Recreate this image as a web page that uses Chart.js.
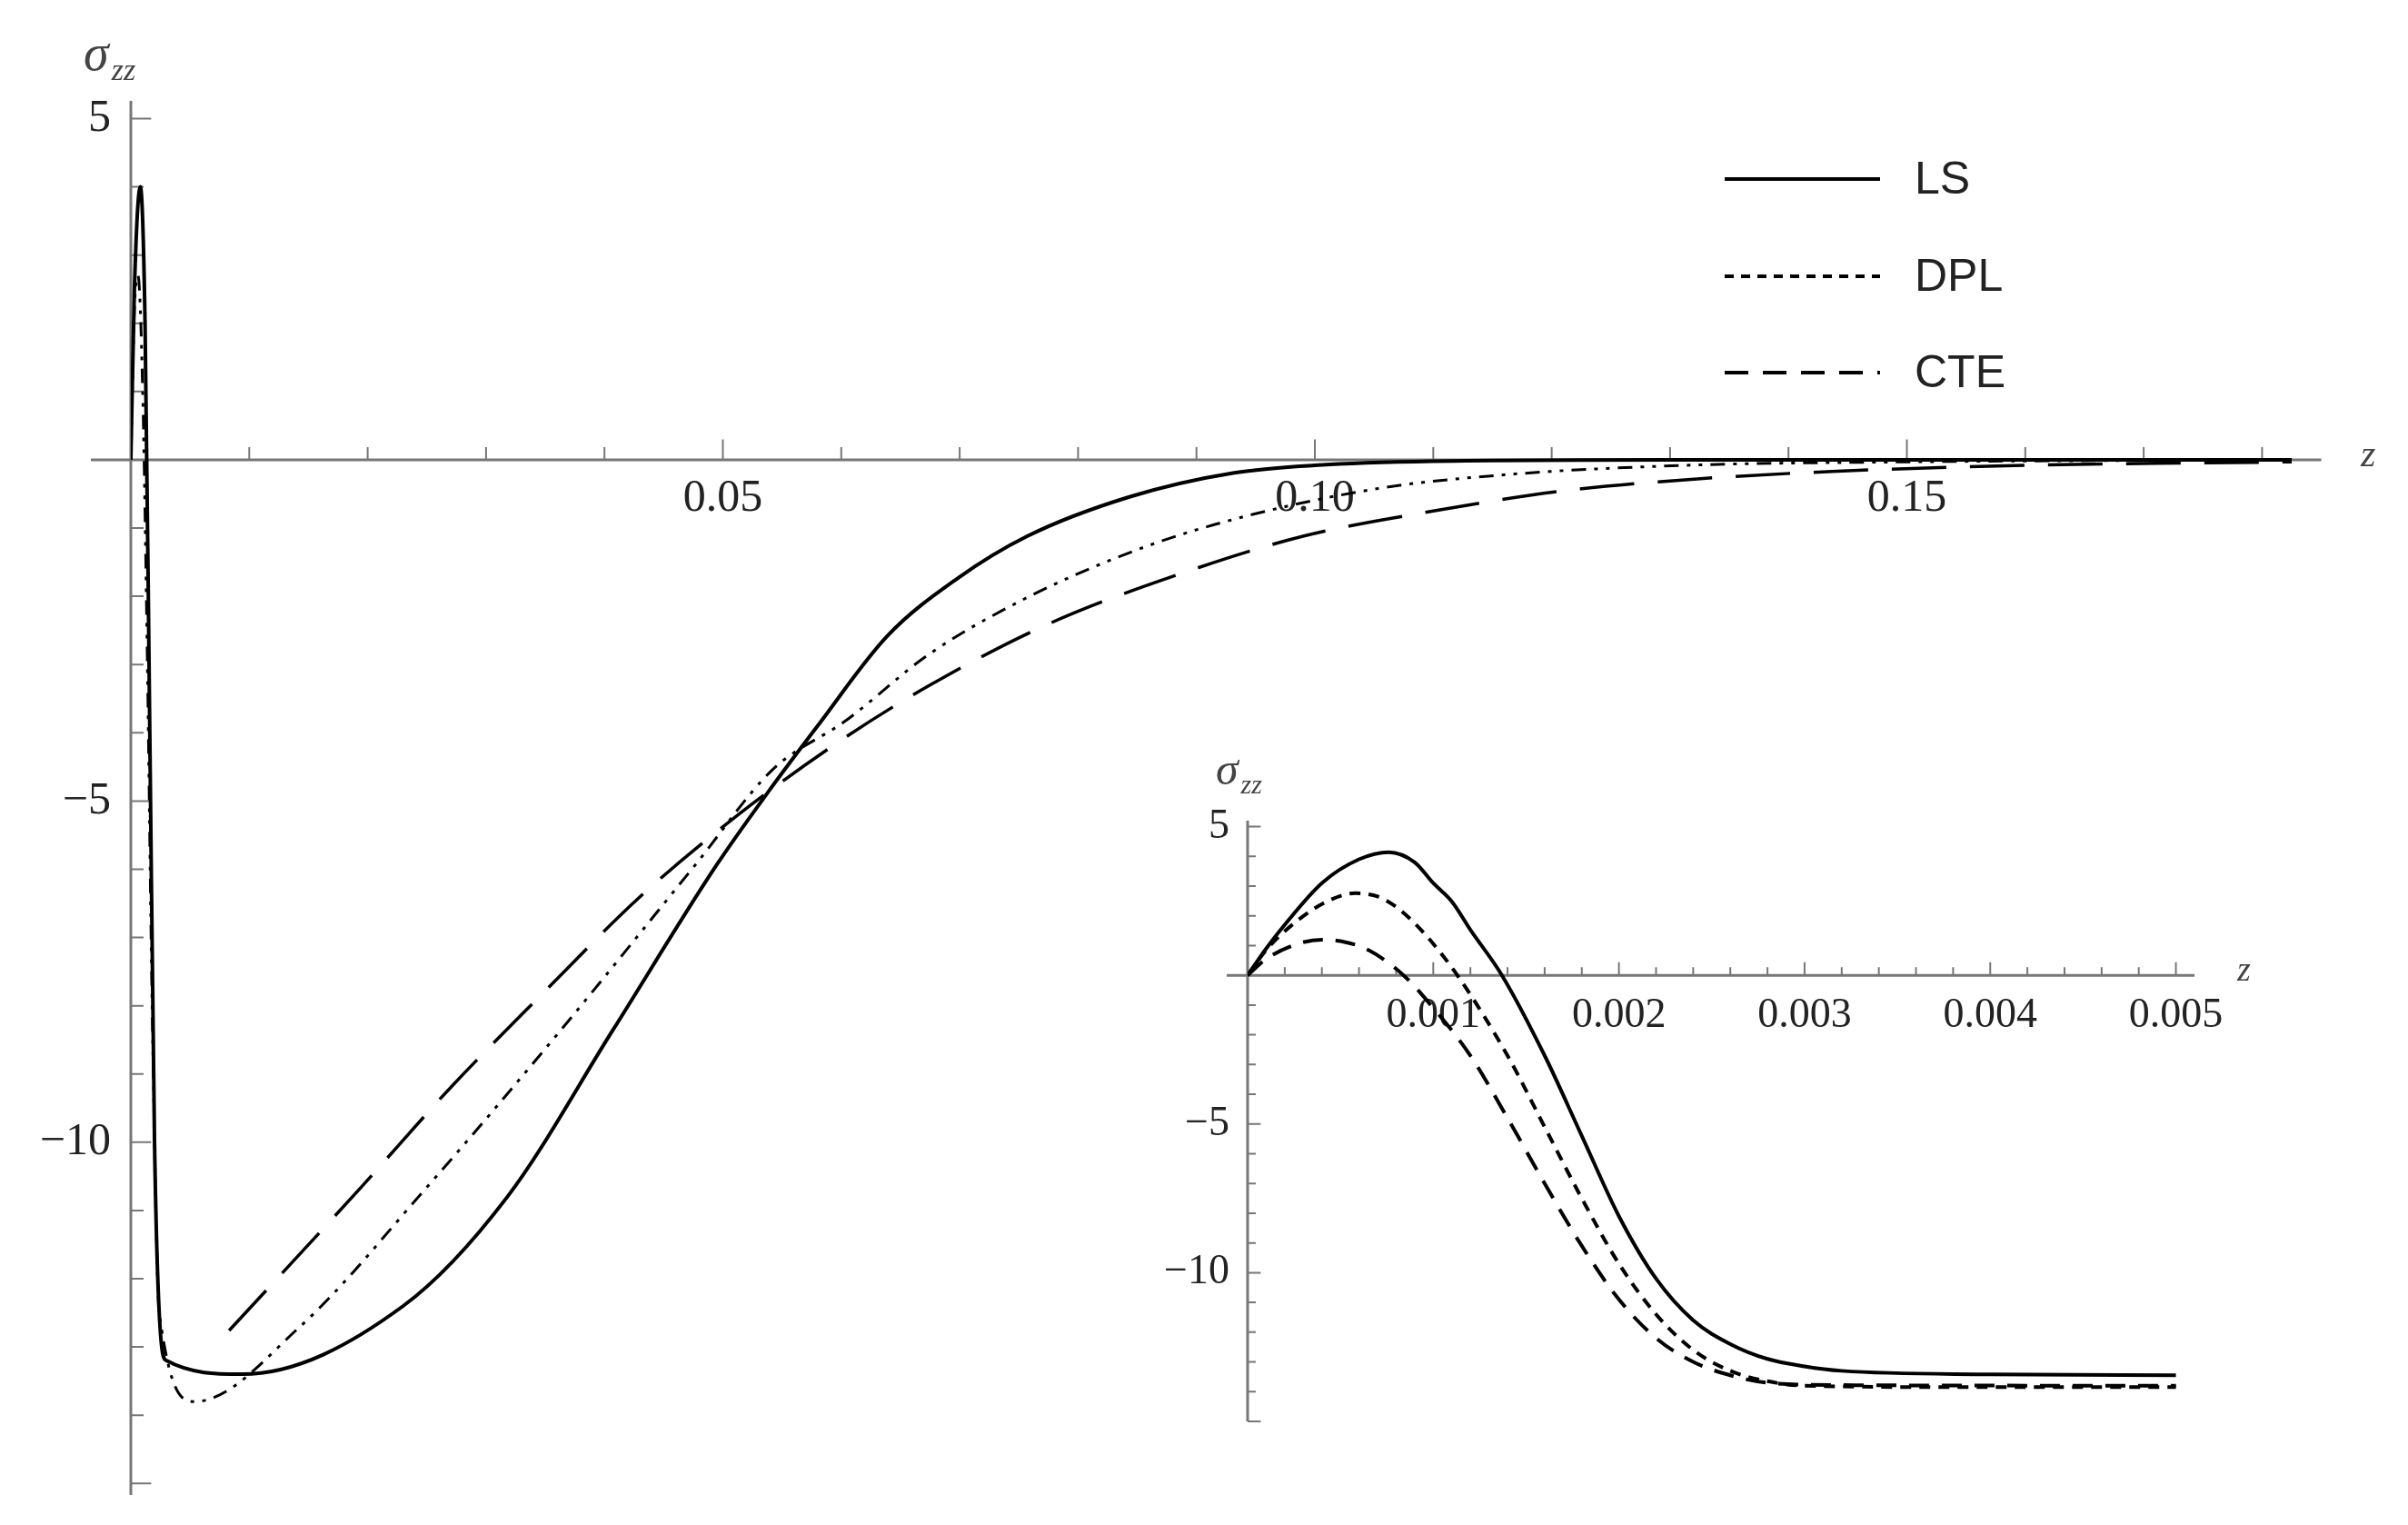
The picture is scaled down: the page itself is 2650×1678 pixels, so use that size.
<!DOCTYPE html>
<html>
<head>
<meta charset="utf-8">
<script src="https://cdn.jsdelivr.net/npm/chart.js@4.4.0/dist/chart.umd.min.js"></script>
<style>
  html, body { margin: 0; padding: 0; background: #fff; }
  #wrap { position: relative; width: 2650px; height: 1678px; }
  canvas { position: absolute; left: 0; top: 0; }
</style>
</head>
<body>
<div id="wrap">
  <canvas id="mainChart" width="2650" height="1678"></canvas>
  <canvas id="insetChart" width="2650" height="1678"></canvas>
</div>
<script>
/* main plot data: z, sigma_zz */
const mainLsZ  = [0, 0.0003, 0.0008, 0.0012, 0.0016, 0.002, 0.0025, 0.003, 0.0094, 0.023, 0.0318, 0.0407, 0.0495, 0.0539, 0.058, 0.0639, 0.0698, 0.0757, 0.0844, 0.0932, 0.1, 0.11, 0.13, 0.15, 0.1825];
const mainLsS  = [0, 2.5, 4.0, 2.0, -4.0, -10.0, -12.8, -13.2, -13.4, -12.4, -10.8, -8.36, -5.93, -4.85, -3.9, -2.58, -1.74, -1.12, -0.54, -0.19, -0.08, -0.02, 0, 0, 0];
const mainDplZ = [0, 0.0003, 0.0006, 0.001, 0.0014, 0.0018, 0.0024, 0.0054, 0.0143, 0.0248, 0.0363, 0.0477, 0.0542, 0.0604, 0.0674, 0.075, 0.0833, 0.0915, 0.105, 0.1167, 0.1315, 0.15, 0.1825];
const mainDplS = [0, 2.2, 2.7, 1.0, -3.0, -8.0, -12.5, -13.8, -12.7, -10.7, -8.36, -5.93, -4.54, -3.82, -2.85, -2.08, -1.43, -0.95, -0.43, -0.21, -0.08, -0.03, 0];
const mainCteZ = [0.0083, 0.0195, 0.027, 0.0349, 0.0429, 0.0513, 0.0605, 0.0677, 0.0777, 0.0883, 0.099, 0.11, 0.1212, 0.1323, 0.1437, 0.16, 0.1825];
const mainCteS = [-12.76, -10.65, -9.2, -7.8, -6.42, -5.2, -4.05, -3.28, -2.39, -1.69, -1.12, -0.75, -0.45, -0.28, -0.17, -0.08, -0.03];

/* inset data */
const insLsZ  = [0, 0.0001, 0.0002, 0.0004, 0.0006, 0.00076, 0.0009, 0.001, 0.0011, 0.0012, 0.00137, 0.0016, 0.0018, 0.002, 0.0022, 0.0024, 0.0026, 0.0028, 0.003, 0.0032, 0.004, 0.005];
const insLsS  = [0, 0.9, 1.7, 3.1, 3.9, 4.14, 3.8, 3.1, 2.48, 1.53, 0, -2.7, -5.4, -8.1, -10.2, -11.6, -12.4, -12.9, -13.15, -13.3, -13.42, -13.45];
const insDplZ = [0, 0.0001, 0.00027, 0.00045, 0.00058, 0.0007, 0.0008, 0.0009, 0.001, 0.00113, 0.0014, 0.0016, 0.0018, 0.002, 0.0022, 0.0024, 0.0026, 0.0028, 0.003, 0.004, 0.005];
const insDplS = [0, 0.85, 1.85, 2.55, 2.76, 2.65, 2.3, 1.75, 1.06, 0, -2.7, -5.1, -7.5, -9.7, -11.4, -12.6, -13.3, -13.65, -13.8, -13.85, -13.85];
const insCteZ = [0, 0.0001, 0.00027, 0.0004, 0.0005, 0.00065, 0.00084, 0.001, 0.0012, 0.0014, 0.0016, 0.0018, 0.002, 0.0022, 0.0024, 0.0026, 0.0028, 0.0032, 0.005];
const insCteS = [0, 0.55, 1.06, 1.2, 1.15, 0.85, 0, -1.1, -2.7, -4.8, -7.0, -9.1, -10.9, -12.2, -13.0, -13.45, -13.7, -13.78, -13.8];

const mainXLabels = [0.05, 0.10, 0.15];
const mainYLabels = [5, -5, -10];
const insXLabels = [0.001, 0.002, 0.003, 0.004, 0.005];
const insYLabels = [5, -5, -10];

const legendNames = ['LS', 'DPL', 'CTE'];

function pts(xs, ys) { return xs.map((x, i) => ({ x: x, y: ys[i] })); }

function series(xs, ys, dash, width) {
  return {
    data: pts(xs, ys),
    showLine: true,
    borderColor: '#000',
    borderWidth: width,
    borderDash: dash,
    pointRadius: 0,
    cubicInterpolationMode: 'monotone',
    fill: false
  };
}

/* axes, ticks and labels drawn with the chart's own scales */
function axesPlugin(cfg) {
  return {
    id: 'axes',
    beforeDatasetsDraw(chart) {
      const c = chart.ctx, xs = chart.scales.x, ys = chart.scales.y;
      const x0 = xs.getPixelForValue(0), y0 = ys.getPixelForValue(0);
      c.save();
      c.strokeStyle = '#777';
      c.lineWidth = 3;
      c.beginPath();
      c.moveTo(cfg.xAxisStart, y0); c.lineTo(xs.getPixelForValue(cfg.xEnd), y0);
      c.moveTo(x0, ys.top); c.lineTo(x0, ys.bottom);
      c.stroke();
      c.lineWidth = 2;
      c.beginPath();
      for (let v = cfg.xStep; v <= cfg.xEnd + 1e-9; v += cfg.xStep) {
        const p = xs.getPixelForValue(v);
        const major = Math.abs(v / cfg.xMajor - Math.round(v / cfg.xMajor)) < 1e-6;
        c.moveTo(p, y0); c.lineTo(p, y0 - (major ? cfg.tick * 1.6 : cfg.tick));
      }
      for (let v = Math.ceil(ys.min); v <= Math.floor(ys.max); v++) {
        if (v === 0) continue;
        const p = ys.getPixelForValue(v);
        const major = v % 5 === 0;
        c.moveTo(x0, p); c.lineTo(x0 + (major ? cfg.tick * 1.6 : cfg.tick), p);
      }
      c.stroke();
      c.fillStyle = '#222';
      c.font = cfg.font;
      c.textAlign = 'center'; c.textBaseline = 'top';
      cfg.xLabels.forEach(v => c.fillText(v.toFixed(cfg.xDec), xs.getPixelForValue(v), y0 + cfg.xLabelGap));
      c.textAlign = 'right'; c.textBaseline = 'middle';
      cfg.yLabels.forEach(v => c.fillText(v < 0 ? '\u2212' + Math.abs(v) : String(v), x0 - cfg.yLabelGap, ys.getPixelForValue(v)));
      // axis names
      c.fillStyle = '#444';
      c.textAlign = 'left';
      c.font = 'italic ' + cfg.nameSize + 'px "Liberation Serif"';
      c.fillText('\u03C3', cfg.sigmaX, cfg.sigmaY);
      c.font = 'italic ' + Math.round(cfg.nameSize * 0.6) + 'px "Liberation Serif"';
      c.fillText('zz', cfg.sigmaX + cfg.nameSize * 0.55, cfg.sigmaY + cfg.nameSize * 0.3);
      c.font = 'italic ' + Math.round(cfg.nameSize * 0.75) + 'px "Liberation Serif"';
      c.fillText('z', cfg.zX, y0 - 4);
      c.restore();
    }
  };
}

const legendPlugin = {
  id: 'legendLines',
  afterDraw(chart) {
    const c = chart.ctx;
    const dashes = [[], [10, 8], [26, 16]];
    const ys = [197, 304, 410];
    c.save();
    legendNames.forEach((n, i) => {
      c.strokeStyle = '#000';
      c.lineWidth = 4;
      c.setLineDash(dashes[i]);
      c.beginPath(); c.moveTo(1898, ys[i]); c.lineTo(2069, ys[i]); c.stroke();
      c.setLineDash([]);
      c.fillStyle = '#222';
      c.font = '50px "Liberation Sans"';
      c.textAlign = 'left'; c.textBaseline = 'middle';
      c.fillText(n, 2107, ys[i] + 2);
    });
    c.restore();
  }
};

function baseOptions(pad, xMax, yMin, yMax) {
  return {
    responsive: false,
    animation: false,
    layout: { padding: pad },
    plugins: { legend: { display: false }, tooltip: { enabled: false } },
    scales: {
      x: { type: 'linear', min: 0, max: xMax, display: false },
      y: { type: 'linear', min: yMin, max: yMax, display: false }
    }
  };
}

new Chart(document.getElementById('mainChart'), {
  type: 'scatter',
  data: {
    datasets: [
      series(mainLsZ, mainLsS, [], 4),
      series(mainDplZ, mainDplS, [16, 9, 4, 9, 4, 9], 3),
      series(mainCteZ, mainCteS, [60, 26], 3.5)
    ]
  },
  options: baseOptions({ left: 144, right: 128, top: 111, bottom: 33 }, 0.1825, -15.17, 5.26),
  plugins: [axesPlugin({
    xAxisStart: 100, xEnd: 0.185, xStep: 0.01, xMajor: 0.05, tick: 14,
    xLabels: mainXLabels, xDec: 2, yLabels: mainYLabels,
    font: '50px "Liberation Serif"', xLabelGap: 18, yLabelGap: 22,
    nameSize: 56, sigmaX: 92, sigmaY: 62, zX: 2598
  }), legendPlugin]
});

new Chart(document.getElementById('insetChart'), {
  type: 'scatter',
  data: {
    datasets: [
      series(insLsZ, insLsS, [], 4),
      series(insDplZ, insDplS, [12, 9], 4),
      series(insCteZ, insCteS, [22, 14], 4)
    ]
  },
  options: baseOptions({ left: 1373, right: 235, top: 903, bottom: 114 }, 0.0051, -15.0, 5.2),
  plugins: [axesPlugin({
    xAxisStart: 1350, xEnd: 0.0051, xStep: 0.0002, xMajor: 0.001, tick: 9,
    xLabels: insXLabels, xDec: 3, yLabels: insYLabels,
    font: '46px "Liberation Serif"', xLabelGap: 22, yLabelGap: 20,
    nameSize: 50, sigmaX: 1338, sigmaY: 850, zX: 2462
  })]
});
</script>
</body>
</html>
